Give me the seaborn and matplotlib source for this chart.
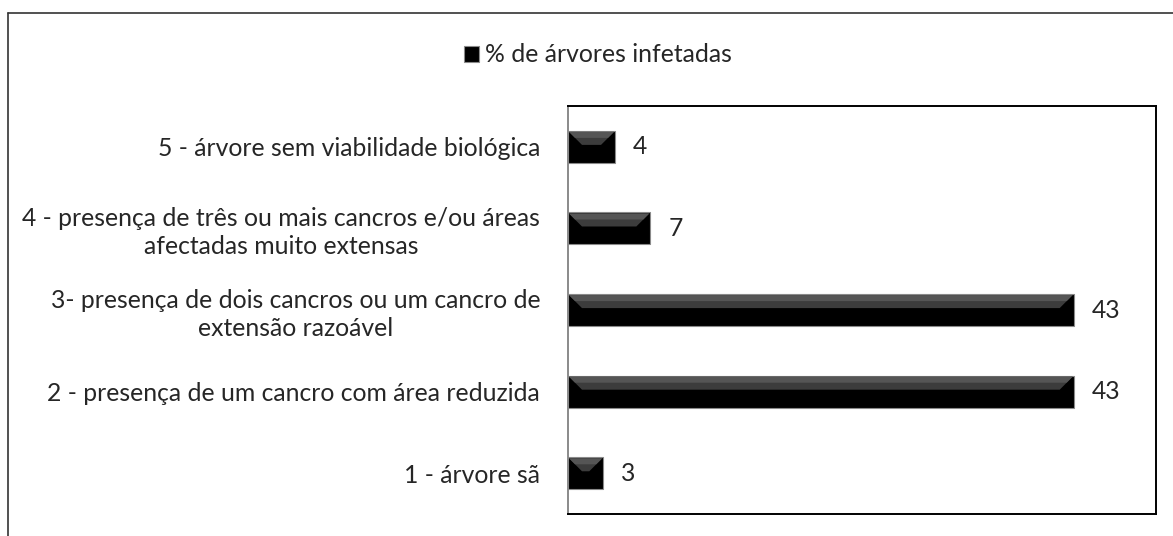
import seaborn as sns
import matplotlib.pyplot as plt
import pandas as pd
from matplotlib.patches import Polygon, Rectangle
from matplotlib.lines import Line2D

# categories from top to bottom, as in the picture
categories = [
    "5 - árvore sem viabilidade biológica",
    "4 - presença de três ou mais cancros e/ou áreas\nafectadas muito extensas",
    "3- presença de dois cancros ou um cancro de\nextensão razoável",
    "2 - presença de um cancro com área reduzida",
    "1 - árvore sã",
]
values = [4, 7, 43, 43, 3]
series_name = "% de árvores infetadas"

df = pd.DataFrame({"categoria": categories, "valor": values})

sns.set_style("white")
plt.rcParams["font.family"] = ["Lato", "DejaVu Sans"]
FS = 17.8

fig = plt.figure(figsize=(11.73, 5.36), dpi=100)
ax = fig.add_axes([568 / 1173, 1 - 514 / 536, (1156 - 568) / 1173, (514 - 106) / 536])

sns.barplot(data=df, x="valor", y="categoria", ax=ax, color="black",
            width=0.39, edgecolor="#8a8a8a", linewidth=0.8, saturation=1)

ax.set_xlim(0, 50)
ax.set_ylim(4.5, -0.5)
ax.set_xlabel("")
ax.set_ylabel("")
ax.set_xticks([])
ax.tick_params(axis="y", length=0, pad=20, labelsize=FS)
for lbl in ax.get_yticklabels():
    lbl.set_multialignment("center")
    lbl.set_linespacing(1.25)

for side in ["top", "right", "bottom"]:
    ax.spines[side].set_color("black")
    ax.spines[side].set_linewidth(1.4)
ax.spines["left"].set_color("#8a8a8a")
ax.spines["left"].set_linewidth(1.4)

# bevel highlight on top of each bar
xu = 50 / 588
yu = 5 / 408
for p in ax.patches:
    x0, y0 = p.get_x(), p.get_y()
    w, h = p.get_width(), p.get_height()
    d = min(14 * xu, w / 2)
    dy = min(14 * yu, (d / xu) * yu)
    ax.add_patch(Polygon([(x0 + 1 * xu, y0 + 1 * yu), (x0 + w - 1 * xu, y0 + 1 * yu),
                          (x0 + w - d, y0 + dy), (x0 + d, y0 + dy)],
                         closed=True, facecolor="#3c3c3c", edgecolor="none", zorder=3))
    ax.add_patch(Polygon([(x0 + 1 * xu, y0 + 1 * yu), (x0 + w - 1 * xu, y0 + 1 * yu),
                          (x0 + w - d * 0.5, y0 + dy * 0.5), (x0 + d * 0.5, y0 + dy * 0.5)],
                         closed=True, facecolor="#555555", edgecolor="none", zorder=3))

ax.bar_label(ax.containers[0], padding=13, fontsize=FS)

handle = Rectangle((0, 0), 1, 1, facecolor="black", edgecolor="#8a8a8a", linewidth=0.8)
fig.legend([handle], [series_name], loc="center", bbox_to_anchor=(598 / 1173, 1 - 55 / 536),
           frameon=False, fontsize=FS, handlelength=0.6, handleheight=0.6, handletextpad=0.25)

# outer chart border
fig.add_artist(Line2D([8 / 1173, 8 / 1173], [0, 1 - 13 / 536], color="#333333", linewidth=1.2))
fig.add_artist(Line2D([8 / 1173, 1], [1 - 13 / 536, 1 - 13 / 536], color="#333333", linewidth=1.2))

fig.savefig("out.png", dpi=100)
